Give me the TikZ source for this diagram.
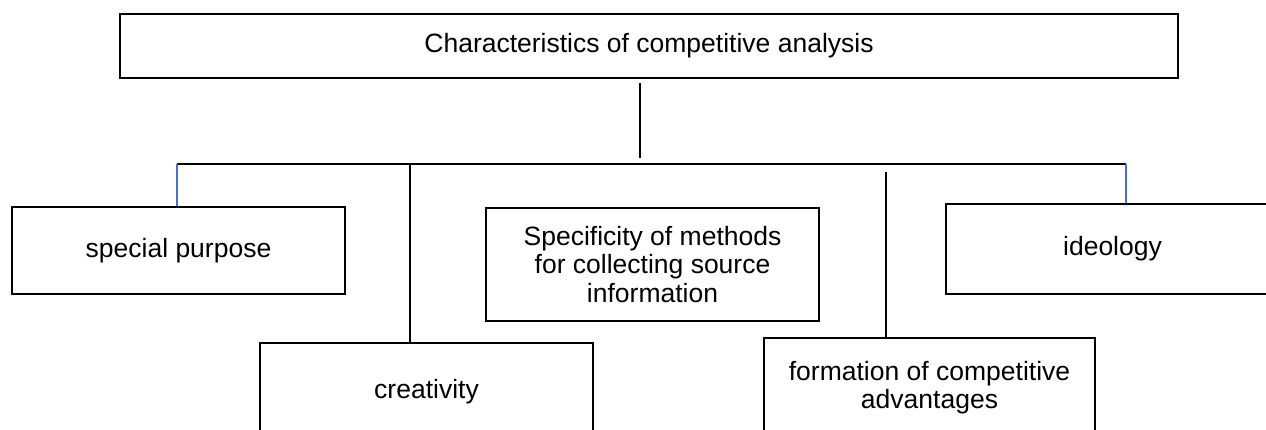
\documentclass[tikz,border=0pt]{standalone}
\usepackage{fontspec}
\setmainfont{Liberation Sans}
\usetikzlibrary{calc}
\definecolor{linkblue}{HTML}{4472C4}
\tikzset{
  box/.style={draw=black, line width=1.5pt, fill=white, inner sep=2pt, align=center,
    font=\fontsize{26.5}{28.5}\selectfont},
  link/.style={draw=black, line width=1.1pt},
  bluelink/.style={draw=linkblue, line width=1.1pt},
  bus/.style={draw=black, line width=2pt}
}
\begin{document}
\begin{tikzpicture}[x=1pt,y=-1pt]
\useasboundingbox (0,0) rectangle (1266,430);
\fill[white] (0,0) rectangle (1266,430);
\node[box, minimum width=1058pt, minimum height=64pt] (title) at (649,46) {Characteristics of competitive analysis};
\node[box, minimum width=333pt, minimum height=87pt] (special) at (178.5,250.5) {special purpose};
\node[box, minimum width=333pt, minimum height=113pt] (spec) at (652.5,264.5) {Specificity of methods\\for collecting source\\information};
\node[box, minimum width=333pt, minimum height=90pt] (ideo) at (1112.5,249) {ideology};
\node[box, minimum width=333pt, minimum height=98pt] (creat) at (426.5,392) {creativity};
\node[box, minimum width=331pt, minimum height=99pt] (form) at (929.5,387.5) {formation of competitive\\advantages};
\coordinate (stemtop) at (640,83);
\coordinate (stembot) at (640,158);
\coordinate (busL) at (177,164);
\coordinate (busR) at (1126,164);
\coordinate (busC) at (410,164);
\coordinate (formtop) at (886,172);
\draw[link] (stemtop) -- (stembot);
\draw[bus] (busL) -- (busR);
\draw[bluelink] (busL) -- (busL |- special.north);
\draw[bluelink] (busR) -- (busR |- ideo.north);
\draw[link] (busC) -- (busC |- creat.north);
\draw[link] (formtop) -- (formtop |- form.north);
\end{tikzpicture}
\end{document}
